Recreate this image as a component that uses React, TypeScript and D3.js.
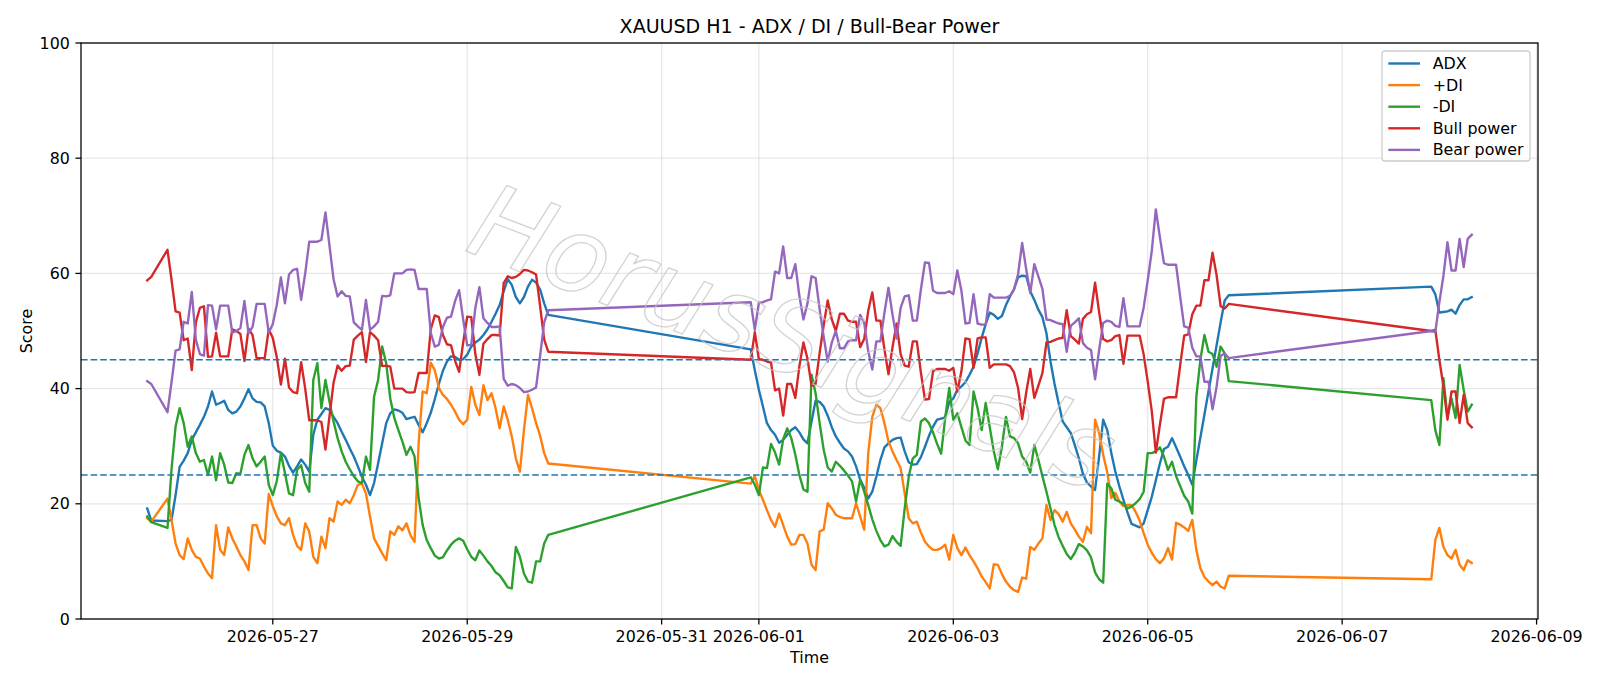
import React from 'react';
import * as d3 from 'd3';

// hourly bars, grouped in runs (market breaks are bridged by straight lines)
const SEG_START = ['2026-05-25T17:00:00Z', '2026-05-25T22:00:00Z', '2026-05-31T22:00:00Z', '2026-06-07T22:00:00Z'];
const SEG_LEN = [2, 95, 119, 11];

const X_TICKS = ['2026-05-27', '2026-05-29', '2026-05-31', '2026-06-01', '2026-06-03', '2026-06-05', '2026-06-07', '2026-06-09'];
const Y_TICKS = [0, 20, 40, 60, 80, 100];
const LEVELS = [45, 25];

const ADX = [
  19.2, 17.1,
  17.0, 17.2, 21.5, 26.4, 27.5, 28.8, 31.1, 32.4, 33.7, 35.1,
  36.9, 39.5, 37.2, 37.5, 37.9, 36.3, 35.7, 36.0, 36.9, 38.3,
  39.9, 38.3, 37.7, 37.6, 36.9, 34.0, 30.1, 29.2, 28.9, 28.2,
  26.6, 25.4, 26.5, 27.7, 26.8, 25.6, 32.0, 34.6, 35.6, 36.6,
  36.3, 35.1, 34.0, 32.5, 31.1, 29.6, 28.2, 26.5, 24.7, 23.3,
  21.5, 23.6, 27.0, 30.5, 34.0, 35.7, 36.4, 36.2, 35.8, 34.7,
  34.9, 35.1, 33.7, 32.4, 34.0, 35.8, 38.2, 40.8, 43.1, 44.7,
  45.6, 45.5, 45.0, 45.1, 45.9, 47.3, 48.0, 48.5, 49.3, 50.3,
  51.6, 53.0, 54.5, 56.9, 59.0, 58.0, 55.9, 54.8, 55.9, 57.7,
  58.9, 58.4, 57.2, 54.8, 52.8,
  46.8, 43.2, 39.8, 36.9, 34.0, 32.8, 32.0, 30.6, 31.1, 32.0,
  32.8, 33.3, 32.4, 31.2, 30.5, 34.3, 37.9, 37.7, 36.9, 35.3,
  33.3, 31.7, 30.6, 29.6, 29.1, 28.2, 26.5, 24.2, 22.8, 20.9,
  22.1, 24.7, 27.6, 29.8, 30.5, 31.1, 31.4, 31.5, 29.1, 27.2,
  26.8, 26.9, 28.1, 29.9, 31.8, 33.4, 34.6, 34.8, 35.0, 37.7,
  38.3, 39.8, 40.4, 41.1, 42.4, 43.8, 46.1, 48.8, 51.2, 53.2,
  52.8, 52.1, 52.6, 54.5, 56.0, 57.3, 59.3, 59.6, 59.5, 56.9,
  55.4, 53.7, 52.4, 49.6, 44.7, 40.8, 37.5, 34.3, 33.3, 32.3,
  30.2, 27.9, 25.2, 23.7, 23.0, 22.4, 28.2, 34.6, 32.8, 28.8,
  25.6, 23.0, 20.7, 18.5, 16.5, 16.2, 15.9, 16.6, 18.9, 21.2,
  24.1, 27.0, 29.5, 29.9, 31.4, 29.8, 28.2, 26.5, 25.0, 23.3,
  27.5, 31.5, 35.5, 39.5, 43.5, 47.5, 51.5, 55.3, 56.2,
  57.7, 56.4, 53.2, 53.3, 53.4, 53.7, 53.0, 54.5, 55.5, 55.5, 55.9,
];

const PLUS_DI = [
  17.5, 16.9,
  20.9, 17.2, 13.1, 11.1, 10.4, 14.0, 12.0, 10.8, 10.5, 9.1,
  7.9, 7.1, 16.3, 12.0, 11.1, 15.9, 14.0, 12.6, 11.1, 10.0,
  8.5, 16.3, 16.3, 14.0, 13.1, 21.7, 19.6, 17.8, 16.6, 16.3,
  17.5, 14.6, 12.7, 12.0, 16.6, 15.2, 10.8, 9.7, 14.3, 12.3,
  17.5, 16.9, 20.4, 19.8, 20.7, 20.1, 21.5, 23.3, 23.5, 21.8,
  17.8, 14.0, 12.7, 11.4, 10.2, 15.2, 14.6, 16.1, 15.4, 16.6,
  14.5, 13.4, 30.5, 39.5, 39.2, 44.5, 43.2, 40.1, 38.9, 38.2,
  37.2, 36.0, 34.6, 33.8, 34.6, 40.3, 37.2, 35.4, 40.6, 38.0,
  39.2, 36.6, 33.1, 36.9, 34.6, 31.7, 27.9, 25.6, 32.8, 38.9,
  36.6, 34.0, 31.8, 28.8, 27.0,
  23.5, 24.8, 22.4, 20.7, 18.9, 17.2, 16.0, 18.3, 16.3, 14.3,
  12.9, 13.0, 14.6, 14.6, 13.1, 9.4, 8.5, 15.2, 15.5, 20.1,
  19.2, 18.1, 17.7, 17.5, 17.5, 17.5, 20.1, 17.8, 15.5, 28.8,
  35.1, 37.2, 36.6, 34.0, 30.8, 29.1, 27.6, 26.2, 21.8, 17.5,
  16.6, 16.9, 15.0, 13.4, 12.6, 12.0, 12.0, 12.3, 12.9, 10.3,
  14.6, 12.3, 11.1, 12.4, 11.1, 10.0, 8.8, 7.4, 6.4, 5.3,
  9.5, 9.4, 7.8, 6.5, 5.6, 5.0, 4.7, 7.2, 7.0, 12.5,
  12.0, 13.1, 14.0, 19.8, 17.2, 18.9, 18.2, 16.9, 18.6, 16.6,
  15.5, 14.3, 13.4, 16.0, 14.9, 34.6, 32.3, 28.5, 25.5, 21.0,
  21.9, 20.4, 19.6, 19.8, 19.8, 18.6, 17.1, 14.9, 12.9, 11.5,
  10.4, 9.7, 10.5, 12.3, 10.3, 16.7, 16.4, 15.9, 15.3, 17.2,
  12.0, 8.8, 7.3, 6.5, 5.9, 6.5, 5.6, 5.3, 7.5,
  6.9, 13.7, 15.8, 12.5, 11.1, 10.5, 12.0, 9.4, 8.5, 10.2, 9.7,
];

const MINUS_DI = [
  17.8, 16.8,
  15.8, 26.0, 33.4, 36.6, 34.0, 29.9, 31.7, 28.8, 27.3, 27.6,
  25.0, 28.2, 24.1, 28.8, 26.8, 23.7, 23.6, 25.3, 25.2, 28.5,
  30.2, 27.9, 26.5, 27.3, 28.2, 23.3, 21.5, 24.0, 28.8, 25.3,
  21.8, 21.5, 25.9, 26.7, 23.6, 22.1, 41.5, 44.4, 36.6, 41.5,
  37.7, 34.3, 31.4, 29.1, 27.3, 26.0, 24.8, 23.9, 23.6, 28.2,
  25.9, 38.6, 41.5, 47.3, 44.4, 38.3, 34.9, 32.8, 30.8, 28.5,
  29.9, 28.2, 21.0, 16.3, 13.7, 12.3, 11.0, 10.5, 10.7, 11.9,
  12.9, 13.6, 14.0, 13.6, 12.1, 10.8, 10.2, 11.9, 11.0, 10.0,
  9.2, 8.1, 7.6, 6.6, 5.5, 5.3, 12.5, 10.8, 7.9, 6.5,
  6.3, 10.0, 10.0, 13.1, 14.6,
  24.6, 23.3, 21.5, 26.3, 26.2, 30.4, 28.9, 26.8, 31.2, 33.1,
  31.4, 28.5, 25.0, 22.5, 22.1, 42.4, 39.2, 34.0, 29.4, 26.3,
  25.6, 27.3, 26.6, 25.8, 24.9, 23.9, 20.4, 24.2, 22.1, 19.8,
  17.3, 15.3, 13.7, 12.6, 12.9, 14.4, 13.4, 12.7, 19.2, 24.7,
  27.9, 28.5, 34.3, 34.8, 34.0, 32.4, 30.4, 28.7, 34.9, 40.1,
  34.6, 35.7, 33.3, 31.0, 30.2, 39.5, 36.6, 32.8, 37.5, 33.3,
  29.1, 26.0, 29.9, 35.1, 31.7, 31.4, 30.5, 28.2, 27.3, 25.4,
  30.2, 27.6, 24.8, 22.1, 19.2, 16.3, 14.2, 12.7, 11.3, 10.4,
  11.5, 13.0, 12.6, 11.9, 10.7, 8.1, 6.9, 6.3, 23.5, 22.7,
  20.7, 20.4, 20.0, 19.2, 19.5, 20.1, 20.8, 22.1, 28.8, 28.8,
  29.1, 29.8, 28.2, 25.9, 27.3, 24.8, 23.1, 21.4, 20.4, 18.3,
  38.6, 45.0, 49.3, 46.4, 46.0, 43.8, 47.3, 46.1, 41.3,
  38.0, 32.8, 30.2, 41.8, 35.1, 38.3, 34.9, 44.1, 39.8, 36.0, 37.2,
];

const BULL = [
  58.8, 59.4,
  64.1, 58.9, 53.4, 53.2, 48.4, 48.7, 43.2, 51.5, 54.0, 54.3,
  45.5, 45.6, 49.7, 45.6, 45.6, 45.6, 50.3, 50.0, 49.5, 44.8,
  50.4, 49.3, 45.3, 45.3, 45.3, 50.3, 48.8, 45.4, 40.7, 45.2,
  40.2, 39.4, 39.2, 44.6, 40.0, 34.5, 34.5, 34.5, 34.2, 29.4,
  35.2, 41.0, 44.0, 43.1, 43.9, 44.0, 48.5, 49.2, 49.8, 44.6,
  49.8, 49.2, 48.4, 43.9, 44.0, 43.8, 40.0, 40.0, 40.0, 39.4,
  39.3, 39.4, 42.7, 42.7, 42.7, 50.3, 52.7, 52.4, 49.3, 47.7,
  47.5, 44.8, 42.9, 48.0, 52.5, 52.4, 46.0, 42.4, 47.8, 48.6,
  49.3, 49.3, 49.2, 58.3, 59.5, 59.2, 59.4, 59.9, 60.6, 60.5,
  60.2, 59.8, 54.3, 48.5, 46.4,
  45.0, 49.8, 45.1, 45.0, 44.7, 44.5, 39.7, 40.0, 35.3, 40.8,
  40.8, 38.4, 43.9, 48.0, 45.2, 40.5, 40.8, 46.2, 51.0, 55.3,
  52.0, 50.0, 53.0, 53.0, 51.8, 51.6, 51.6, 47.2, 48.6, 53.5,
  56.7, 51.8, 51.8, 46.8, 42.5, 47.2, 51.3, 46.0, 44.0, 43.8,
  48.2, 48.2, 42.8, 38.1, 38.2, 43.0, 43.4, 43.4, 43.4, 43.1,
  43.6, 39.5, 43.0, 48.7, 48.6, 43.6, 48.7, 48.9, 48.9, 43.6,
  44.2, 44.2, 44.2, 44.2, 43.9, 42.8, 40.1, 34.7, 39.3, 43.4,
  38.4, 40.5, 42.7, 48.0, 48.1, 48.4, 48.7, 48.8, 53.6, 49.1,
  48.5, 47.8, 52.1, 52.9, 53.3, 58.4, 53.3, 48.6, 48.2, 48.4,
  49.1, 49.3, 44.3, 49.2, 49.2, 49.2, 49.2, 45.9, 41.2, 36.1,
  28.9, 33.7, 38.2, 38.5, 38.5, 38.5, 44.0, 49.2, 49.4, 52.9,
  54.4, 54.4, 58.8, 58.8, 63.6, 59.7, 54.3, 53.9, 54.7,
  50.0, 50.2, 45.0, 40.4, 34.6, 39.5, 39.5, 34.0, 38.9, 34.0, 33.3,
];

const BEAR = [
  41.3, 40.8,
  35.9, 41.1, 46.6, 46.8, 51.6, 51.3, 56.8, 48.5, 46.0, 45.7,
  54.5, 54.4, 50.3, 54.4, 54.4, 54.4, 49.7, 50.0, 50.5, 55.2,
  49.6, 50.7, 54.7, 54.7, 54.7, 49.7, 51.2, 54.6, 59.3, 54.8,
  59.8, 60.6, 60.8, 55.4, 60.0, 65.5, 65.5, 65.5, 65.8, 70.6,
  64.8, 59.0, 56.0, 56.9, 56.1, 56.0, 51.5, 50.8, 50.2, 55.4,
  50.2, 50.8, 51.6, 56.1, 56.0, 56.2, 60.0, 60.0, 60.0, 60.6,
  60.7, 60.6, 57.3, 57.3, 57.3, 49.7, 47.3, 47.6, 50.7, 52.3,
  52.5, 55.2, 57.1, 52.0, 47.5, 47.6, 54.0, 57.6, 52.2, 51.4,
  50.7, 50.7, 50.8, 41.7, 40.5, 40.8, 40.6, 40.1, 39.4, 39.5,
  39.8, 40.2, 45.7, 51.5, 53.6,
  55.0, 50.2, 54.9, 55.0, 55.3, 55.5, 60.3, 60.0, 64.7, 59.2,
  59.2, 61.6, 56.1, 52.0, 54.8, 59.5, 59.2, 53.8, 49.0, 44.7,
  48.0, 50.0, 47.0, 47.0, 48.2, 48.4, 48.4, 52.8, 51.4, 46.5,
  43.3, 48.2, 48.2, 53.2, 57.5, 52.8, 48.7, 54.0, 56.0, 56.2,
  51.8, 51.8, 57.2, 61.9, 61.8, 57.0, 56.6, 56.6, 56.6, 56.9,
  56.4, 60.5, 57.0, 51.3, 51.4, 56.4, 51.3, 51.1, 51.1, 56.4,
  55.8, 55.8, 55.8, 55.8, 56.1, 57.2, 59.9, 65.3, 60.7, 56.6,
  61.6, 59.5, 57.3, 52.0, 51.9, 51.6, 51.3, 51.2, 46.4, 50.9,
  51.5, 52.2, 47.9, 47.1, 46.7, 41.6, 46.7, 51.4, 51.8, 51.6,
  50.9, 50.7, 55.7, 50.8, 50.8, 50.8, 50.8, 54.1, 58.8, 63.9,
  71.1, 66.3, 61.8, 61.5, 61.5, 61.5, 56.0, 50.8, 50.6, 47.1,
  45.6, 45.6, 41.2, 41.2, 36.4, 40.3, 45.7, 46.1, 45.3,
  50.0, 49.8, 55.0, 59.6, 65.4, 60.5, 60.5, 66.0, 61.1, 66.0, 66.7,
];

const SERIES = [
  { name: 'ADX', values: ADX, color: '#1f77b4' },
  { name: '+DI', values: PLUS_DI, color: '#ff7f0e' },
  { name: '-DI', values: MINUS_DI, color: '#2ca02c' },
  { name: 'Bull power', values: BULL, color: '#d62728' },
  { name: 'Bear power', values: BEAR, color: '#9467bd' },
];

const times: Date[] = SEG_START.flatMap((s, i) =>
  d3.range(SEG_LEN[i]).map(h => d3.utcHour.offset(new Date(s), h))
);

const FONT = 'DejaVu Sans, sans-serif';
const PT = 114.29 / 72; // figure was rendered at ~114 dpi
const FS = 10 * PT;

export default function App() {
  const W = 1600, H = 686;
  const m = { left: 81, right: 1538, top: 43, bottom: 619 };
  const tick = 3.5 * PT;

  // matplotlib-style 5% margins on the time axis
  const t0 = +times[0], t1 = +times[times.length - 1];
  const pad = (t1 - t0) * 0.05;
  const x = d3.scaleUtc().domain([new Date(t0 - pad), new Date(t1 + pad)]).range([m.left, m.right]);
  const y = d3.scaleLinear().domain([0, 100]).range([m.bottom, m.top]);

  const line = d3.line<number>()
    .x((_, i) => x(times[i]))
    .y(v => y(v));

  const cx = (m.left + m.right) / 2;
  const cy = (m.top + m.bottom) / 2;

  return (
    <svg width={W} height={H} style={{ position: 'absolute', left: 0, top: 0, background: '#fff' }} fontFamily={FONT}>
      {/* grid */}
      <g stroke="#b0b0b0" strokeOpacity={0.3} strokeWidth={0.8 * PT}>
        {X_TICKS.map(t => (
          <line key={t} x1={x(new Date(t))} x2={x(new Date(t))} y1={m.top} y2={m.bottom} />
        ))}
        {Y_TICKS.map(v => (
          <line key={v} x1={m.left} x2={m.right} y1={y(v)} y2={y(v)} />
        ))}
      </g>

      {/* series */}
      <g fill="none" strokeWidth={1.5 * PT} strokeLinejoin="round" strokeLinecap="square">
        {SERIES.map(s => (
          <path key={s.name} d={line(s.values) || ''} stroke={s.color} />
        ))}
      </g>

      {/* reference levels */}
      {LEVELS.map(l => (
        <line key={l} x1={m.left} x2={m.right} y1={y(l)} y2={y(l)}
          stroke="#1f77b4" strokeWidth={1.6} strokeDasharray="6.6,3" />
      ))}

      {/* watermark */}
      <text x={790} y={345} textAnchor="middle" dominantBaseline="middle"
        transform="rotate(21 790 345)" fontSize={104} fontStyle="italic"
        fill="none" stroke="#c4c4c4" strokeWidth={1.3} strokeOpacity={0.75}
        fontFamily="DejaVu Sans, sans-serif">HorusSignals</text>

      {/* spines */}
      <rect x={m.left} y={m.top} width={m.right - m.left} height={m.bottom - m.top}
        fill="none" stroke="#000" strokeWidth={0.8 * PT} />

      {/* ticks */}
      <g fontSize={FS} fill="#000">
        {X_TICKS.map(t => {
          const px = x(new Date(t));
          return (
            <g key={t}>
              <line x1={px} x2={px} y1={m.bottom} y2={m.bottom + tick} stroke="#000" strokeWidth={0.8 * PT} />
              <text x={px} y={m.bottom + 2 * tick + 11.8} textAnchor="middle">{t}</text>
            </g>
          );
        })}
        {Y_TICKS.map(v => (
          <g key={v}>
            <line x1={m.left - tick} x2={m.left} y1={y(v)} y2={y(v)} stroke="#000" strokeWidth={0.8 * PT} />
            <text x={m.left - 2 * tick} y={y(v)} textAnchor="end" dominantBaseline="central">{v}</text>
          </g>
        ))}
      </g>

      {/* axis labels and title */}
      <text x={cx} y={663} textAnchor="middle" fontSize={FS}>Time</text>
      <text x={31.5} y={cy} textAnchor="middle" fontSize={FS}
        transform={`rotate(-90 31.5 ${cy})`}>Score</text>
      <text x={cx} y={33} textAnchor="middle" fontSize={12 * PT}>XAUUSD H1 - ADX / DI / Bull-Bear Power</text>

      {/* legend */}
      <g>
        <rect x={1382} y={51} width={148} height={110} rx={3} fill="#fff" fillOpacity={0.8}
          stroke="#cccccc" strokeWidth={0.8 * PT} />
        {SERIES.map((s, i) => {
          const ly = 63.5 + i * 21.6;
          return (
            <g key={s.name}>
              <line x1={1388.3} x2={1420} y1={ly} y2={ly} stroke={s.color} strokeWidth={1.5 * PT} />
              <text x={1432.7} y={ly} dominantBaseline="central" fontSize={FS}>{s.name}</text>
            </g>
          );
        })}
      </g>
    </svg>
  );
}
